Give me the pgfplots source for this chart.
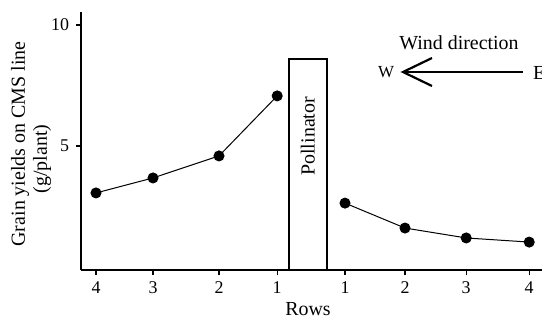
\documentclass[border=0pt]{standalone}
\usepackage{fontspec}
\setmainfont{Liberation Serif}
\usepackage{pgfplots}
\pgfplotsset{compat=1.18}
\begin{document}
\fontsize{20}{24}\selectfont
\begin{tikzpicture}[x=1bp,y=1bp]
\begin{axis}[
  at={(0,0)}, anchor=south west,
  x=60bp, y=24.2bp,
  xmin=-0.25, xmax=7.43, ymin=-0.124, ymax=10.54,
  axis x line=bottom, axis y line=left,
  axis line style={-, line width=1.8bp},
  xtick={0,0.95,2.05,3.02,4.15,5.15,6.17,7.22},
  xticklabels={4,3,2,1,1,2,3,4},
  ytick={5,10},
  tick align=outside, major tick length=5bp,
  tick style={line width=1.2bp, black},
  minor tick num=0,
  /pgf/number format/assume math mode=true,
  ticklabel style={font=\fontsize{18}{20}\selectfont},
  clip=false,
]
\addplot[black, line width=1bp, mark=*, mark size=5bp, mark options={fill=black}]
  coordinates {(0,3.06)(0.95,3.68)(2.05,4.59)(3.02,7.07)};
\addplot[black, line width=1bp, mark=*, mark size=5bp, mark options={fill=black}]
  coordinates {(4.15,2.64)(5.15,1.61)(6.17,1.20)(7.22,1.03)};
\addplot[black, line width=1.8bp, no marks]
  coordinates {(3.22,-0.124)(3.22,8.6)(3.85,8.6)(3.85,-0.124)};
\node[rotate=90] at (axis cs:3.53,5.4) {Pollinator};
\end{axis}
\node at (378,227) {Wind direction};
\node at (305,198) {\fontsize{17}{19}\selectfont W};
\draw[line width=1.5bp] (322,198) -- (442,198);
\draw[line width=2.2bp] (351,212) -- (322,198) -- (351,184);
\node[anchor=west, inner sep=0] at (452,197) {\fontsize{20}{22}\selectfont E};
\node[rotate=90] at (-61,126) {Grain yields on CMS line};
\node[rotate=90] at (-39,111) {(g/plant)};
\node at (227,-39) {Rows};
\pgfresetboundingbox
\useasboundingbox (-81,-51) rectangle (461,270);
\end{tikzpicture}
\end{document}
